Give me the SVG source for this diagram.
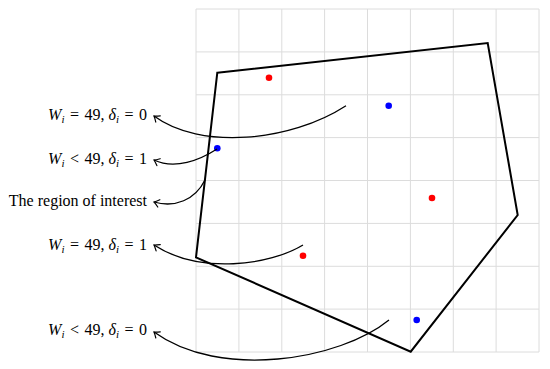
<svg xmlns="http://www.w3.org/2000/svg" width="550" height="369" viewBox="0 0 550 369">
<defs>
<marker id="arr" viewBox="-7 -5 9 10" markerWidth="9" markerHeight="10" refX="0" refY="0" orient="auto" markerUnits="userSpaceOnUse">
<path d="M-5,-3.8 Q-1.6,-0.9 0,0 Q-1.6,0.9 -5,3.8" fill="none" stroke="#000" stroke-width="1.2" stroke-linecap="round"/>
</marker>
</defs>
<style>
.grid line{stroke:#dcdcdc;stroke-width:1}
.lbl{font-family:"Liberation Serif","DejaVu Serif",serif;font-size:16px;fill:#000}
.it{font-style:italic}
.sub{font-style:italic;font-size:11px}
.conn path{fill:none;stroke:#000;stroke-width:1.3;marker-end:url(#arr)}
</style>
<rect width="550" height="369" fill="#fff"/>
<g id="grid" class="grid">
<line x1="196" y1="9" x2="196" y2="352"/>
<line x1="238.9" y1="9" x2="238.9" y2="352"/>
<line x1="281.8" y1="9" x2="281.8" y2="352"/>
<line x1="324.6" y1="9" x2="324.6" y2="352"/>
<line x1="367.5" y1="9" x2="367.5" y2="352"/>
<line x1="410.4" y1="9" x2="410.4" y2="352"/>
<line x1="453.3" y1="9" x2="453.3" y2="352"/>
<line x1="496.1" y1="9" x2="496.1" y2="352"/>
<line x1="539" y1="9" x2="539" y2="352"/>
<line x1="196" y1="9" x2="539" y2="9"/>
<line x1="196" y1="51.9" x2="539" y2="51.9"/>
<line x1="196" y1="94.8" x2="539" y2="94.8"/>
<line x1="196" y1="137.6" x2="539" y2="137.6"/>
<line x1="196" y1="180.5" x2="539" y2="180.5"/>
<line x1="196" y1="223.4" x2="539" y2="223.4"/>
<line x1="196" y1="266.3" x2="539" y2="266.3"/>
<line x1="196" y1="309.1" x2="539" y2="309.1"/>
<line x1="196" y1="352" x2="539" y2="352"/>
</g>
<g id="region">
<polygon points="217.3,72.7 487.7,43 517.7,215 410.7,351.7 196,257.3" fill="none" stroke="#000" stroke-width="2" stroke-linejoin="miter"/>
</g>
<g id="points">
<circle cx="269" cy="77.7" r="3.3" fill="#ff0000"/>
<circle cx="388.7" cy="105.7" r="3.3" fill="#0000ff"/>
<circle cx="217.3" cy="148.3" r="3.3" fill="#0000ff"/>
<circle cx="432" cy="198" r="3.3" fill="#ff0000"/>
<circle cx="303" cy="255.7" r="3.3" fill="#ff0000"/>
<circle cx="416.7" cy="320" r="3.3" fill="#0000ff"/>
</g>
<g id="connectors" class="conn">
<path d="M346,105.7 C290,142 200,150 154,116"/>
<path d="M217,149 C200,160 175,170 154,160"/>
<path d="M205,180 C195,200 175,208 154,202"/>
<path d="M303,245 C270,265 200,275 154,245"/>
<path d="M389,320 C340,360 220,380 154,332"/>
</g>
<g id="label1"><text class="lbl" x="147" y="119.5" text-anchor="end"><tspan class="it">W</tspan><tspan class="sub" dy="3.5">i</tspan><tspan dy="-3.5" dx="1.5"> = </tspan><tspan dx="1.5">49, </tspan><tspan class="it">δ</tspan><tspan class="sub" dy="3.5">i</tspan><tspan dy="-3.5" dx="1.5"> = </tspan><tspan dx="1.5">0</tspan></text></g>
<g id="label2"><text class="lbl" x="147" y="163.5" text-anchor="end"><tspan class="it">W</tspan><tspan class="sub" dy="3.5">i</tspan><tspan dy="-3.5" dx="1.5"> &lt; </tspan><tspan dx="1.5">49, </tspan><tspan class="it">δ</tspan><tspan class="sub" dy="3.5">i</tspan><tspan dy="-3.5" dx="1.5"> = </tspan><tspan dx="1.5">1</tspan></text></g>
<g id="label3"><text class="lbl" x="147" y="205.5" text-anchor="end">The region of interest</text></g>
<g id="label4"><text class="lbl" x="147" y="249.5" text-anchor="end"><tspan class="it">W</tspan><tspan class="sub" dy="3.5">i</tspan><tspan dy="-3.5" dx="1.5"> = </tspan><tspan dx="1.5">49, </tspan><tspan class="it">δ</tspan><tspan class="sub" dy="3.5">i</tspan><tspan dy="-3.5" dx="1.5"> = </tspan><tspan dx="1.5">1</tspan></text></g>
<g id="label5"><text class="lbl" x="147" y="334.5" text-anchor="end"><tspan class="it">W</tspan><tspan class="sub" dy="3.5">i</tspan><tspan dy="-3.5" dx="1.5"> &lt; </tspan><tspan dx="1.5">49, </tspan><tspan class="it">δ</tspan><tspan class="sub" dy="3.5">i</tspan><tspan dy="-3.5" dx="1.5"> = </tspan><tspan dx="1.5">0</tspan></text></g>
</svg>
